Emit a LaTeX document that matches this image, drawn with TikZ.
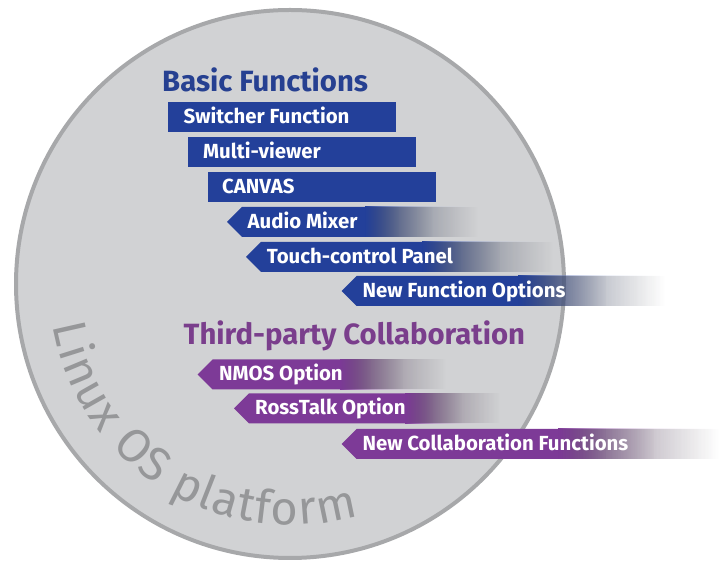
\documentclass[tikz,border=0pt]{standalone}
\usepackage{fontspec}
\setmainfont{Fira Sans}
\usetikzlibrary{fadings,decorations.text}

\definecolor{discfill}{RGB}{209,210,212}
\definecolor{discring}{RGB}{167,168,170}
\definecolor{platgray}{RGB}{150,151,153}
\definecolor{basicblue}{RGB}{35,64,154}
\definecolor{basictitle}{RGB}{38,64,145}
\definecolor{collabpurple}{RGB}{125,58,151}
\definecolor{collabtitle}{RGB}{122,62,140}

% tail fading mask (a fitted path covers the central 50bp square):
% opaque on the left, quickly thinning out to nothing on the right
\begin{tikzfadingfrompicture}[name=tailfade]
  \shade[left color=transparent!0, right color=transparent!50]
    (-25bp,-25bp) rectangle (-9.5bp,25bp);
  \shade[left color=transparent!50, right color=transparent!82]
    (-10bp,-25bp) rectangle (5.5bp,25bp);
  \shade[left color=transparent!82, right color=transparent!100]
    (5bp,-25bp) rectangle (25bp,25bp);
\end{tikzfadingfrompicture}

\tikzset{
  label text/.style={text=white, inner sep=0pt, anchor=base west,
    font=\bfseries\fontsize{20.4}{21}\selectfont},
  group title/.style={inner sep=0pt, anchor=base west,
    font=\bfseries\fontsize{29.3}{30}\selectfont},
}

% plain box: name, colour, left x, bottom y, text x, label
\newcommand{\plainbar}[6]{%
  \fill[#2] (#3,#4) rectangle (#3+228,#4+30);
  \node[label text] (#1) at (#5,#4+8.3) {#6};
}
% pointed tag with a fading tail:
% name, colour, tip x, bottom y, solid end x, fade end x, text x, label
\newcommand{\tagbar}[8]{%
  \fill[#2] (#3,#4+15) -- (#3+15,#4+30) -- (#5+0.6,#4+30)
    -- (#5+0.6,#4) -- (#3+15,#4) -- cycle;
  \fill[left color=#2, right color=#2!10!white, path fading=tailfade]
    (#5,#4) rectangle (#6,#4+30);
  \node[label text] (#1) at (#7,#4+8.5) {#8};
}

\begin{document}
\begin{tikzpicture}[x=1pt,y=1pt]
\useasboundingbox (0,0) rectangle (721,562);

% the platform disc
\node[circle, draw=discring, fill=discfill, line width=4pt,
  minimum size=548pt, inner sep=0pt] (disc) at (290,278) {};

% curved platform caption
\path[decorate, decoration={text along path, text align={fit to path},
    text color=platgray,
    text={|\fontsize{47}{47}\selectfont|Linux OS platform}}]
  (disc.center) ++(190:241) arc[start angle=190, end angle=286.5, radius=241];

% basic functions
\node[group title, text=basictitle] (basic) at (162,470.3) {Basic Functions};
\plainbar{switcher}{basicblue}{168}{430}{183.5}{Switcher Function}
\plainbar{multiview}{basicblue}{188}{395}{203}{Multi-viewer}
\plainbar{canvas}{basicblue}{207.5}{360}{222}{CANVAS}
\tagbar{audio}{basicblue}{227}{325}{365}{478}{247.5}{Audio Mixer}
\tagbar{touch}{basicblue}{246}{290}{422}{553}{266.7}{Touch-control Panel}
\tagbar{newfunc}{basicblue}{341.7}{256}{518}{665}{362.3}{New Function Options}

% third-party collaboration
\node[group title, text=collabtitle] (collab) at (183.5,217) {Third-party Collaboration};
\tagbar{nmos}{collabpurple}{197.7}{172.5}{340}{446}{219}{NMOS Option}
\tagbar{rosstalk}{collabpurple}{234}{138.5}{405}{500}{255}{RossTalk Option}
\tagbar{newcollab}{collabpurple}{341.7}{103}{558}{719}{362.3}{New Collaboration Functions}
\end{tikzpicture}
\end{document}
